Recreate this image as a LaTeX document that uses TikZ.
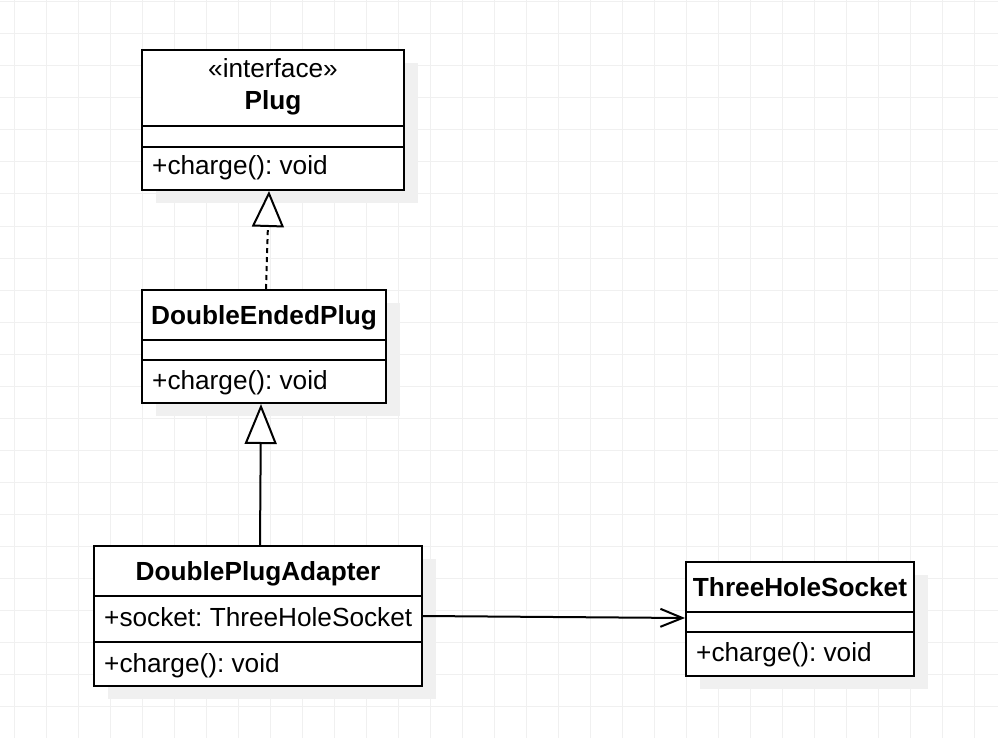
\documentclass[tikz,border=0pt]{standalone}
\usepackage{fontspec}
\setmainfont{Liberation Sans}
\usetikzlibrary{arrows.meta,calc}
\definecolor{gridc}{RGB}{240,240,240}
\definecolor{shadowc}{RGB}{240,240,240}
\frenchspacing
\begin{document}
\begin{tikzpicture}[x=1pt,y=-1pt,
  cls/.style={draw=black, line width=2pt, fill=white, rectangle, inner sep=0pt},
  txt/.style={inner sep=0pt, font=\fontsize{26.2}{30}\selectfont},
  ttl/.style={inner sep=0pt, font=\fontsize{26.2}{30}\selectfont\bfseries, anchor=base},
  stereo/.style={txt, anchor=base},
  attr/.style={txt, anchor=base west},
  sepline/.style={line width=2pt},
  shd/.style={fill=shadowc, draw=none},
  conn/.style={line width=2pt, draw=black}]
\useasboundingbox (0,0) rectangle (998,738);
\fill[white] (0,0) rectangle (998,738);
% grid
\foreach \gx in {14,46,...,998} \draw[gridc, line width=1pt] (\gx,0) -- (\gx,738);
\foreach \gy in {2,34,...,738} \draw[gridc, line width=1pt] (0,\gy) -- (998,\gy);
% shadows
\fill[shd] (156,63) rectangle (418,203);
\fill[shd] (156,303) rectangle (400,416);
\fill[shd] (108,559) rectangle (436,699);
\fill[shd] (700,575) rectangle (928,689);
% classes
\node[cls, minimum width=262pt, minimum height=140pt] (plug) at (273,120) {};
\draw[sepline] (plug.west |- 0,126) -- (plug.east |- 0,126);
\draw[sepline] (plug.west |- 0,147) -- (plug.east |- 0,147);
\node[stereo] (plugst) at (273,78) {«interface»};
\node[ttl] (plugname) at (273,110) {Plug};
\node[attr] (plugop) at (152,175) {+charge(): void};

\node[cls, minimum width=244pt, minimum height=113pt] (dep) at (264,346.5) {};
\draw[sepline] (dep.west |- 0,340) -- (dep.east |- 0,340);
\draw[sepline] (dep.west |- 0,360) -- (dep.east |- 0,360);
\node[ttl] (depname) at (264,324) {DoubleEndedPlug};
\node[attr] (depop) at (152,389) {+charge(): void};

\node[cls, minimum width=328pt, minimum height=140pt] (dpa) at (258,616) {};
\draw[sepline] (dpa.west |- 0,596) -- (dpa.east |- 0,596);
\draw[sepline] (dpa.west |- 0,642) -- (dpa.east |- 0,642);
\node[ttl] (dpaname) at (258,580) {DoublePlugAdapter};
\node[attr] (dpaattr) at (104,626) {+socket: ThreeHoleSocket};
\node[attr] (dpaop) at (104,672) {+charge(): void};

\node[cls, minimum width=228pt, minimum height=114pt] (ths) at (800,619) {};
\draw[sepline] (ths.west |- 0,612) -- (ths.east |- 0,612);
\draw[sepline] (ths.west |- 0,632) -- (ths.east |- 0,632);
\node[ttl] (thsname) at (800,596) {ThreeHoleSocket};
\node[attr] (thsop) at (696,661) {+charge(): void};

% connectors
\draw[conn, dash pattern=on 5pt off 4pt, -{Triangle[open, length=36pt, width=32pt, line width=2pt, fill=white]}]
  ($(dep.north)+(2,0)$) -- ($(plug.south)+(-4,0)$);
\draw[conn, -{Triangle[open, length=40pt, width=32pt, line width=2pt, fill=white]}]
  ($(dpa.north)+(2,0)$) -- ($(dep.south)+(-3,0)$);
\draw[conn, -{Straight Barb[length=22pt, width=18pt, line width=2pt]}]
  (dpa.east |- 0,616) -- (ths.west |- 0,618);
\end{tikzpicture}
\end{document}
